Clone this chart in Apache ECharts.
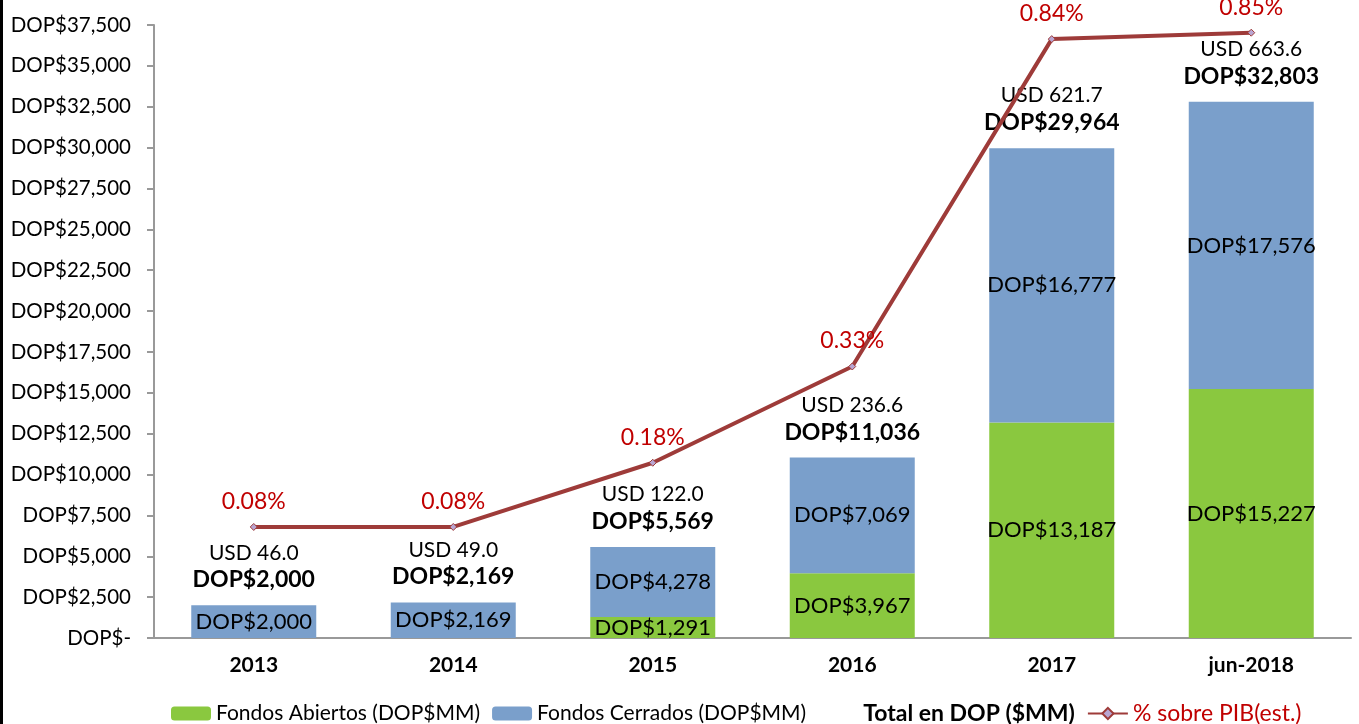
<!DOCTYPE html>
<html>
<head>
    <meta charset="UTF-8">
    <title>Fondos de Inversion</title>
    <script src="https://cdn.jsdelivr.net/npm/echarts@6/dist/echarts.min.js"></script>
    <style>
        html, body { margin: 0; padding: 0; background: #fff; }
        #main { width: 1359px; height: 724px; }
    </style>
</head>
<body>
<div id="main"></div>
<script>
    // datos
    var categorias = ['2013', '2014', '2015', '2016', '2017', 'jun-2018'];
    var abiertos = [0, 0, 1291, 3967, 13187, 15227];
    var cerrados = [2000, 2169, 4278, 7069, 16777, 17576];
    var totales = [2000, 2169, 5569, 11036, 29964, 32803];
    var usd = ['46.0', '49.0', '122.0', '236.6', '621.7', '663.6'];
    var pib = [0.08, 0.08, 0.18, 0.33, 0.84, 0.85];

    var fuente = 'Lato, "Open Sans", sans-serif';

    function dop(v) {
        if (!v) return 'DOP$-';
        return 'DOP$' + Number(v).toLocaleString('en-US');
    }

    var myChart = echarts.init(document.getElementById('main'));
    var option = {
        animation: false,
        textStyle: { fontFamily: fuente },
        graphic: [{
            type: 'rect',
            shape: { x: 0, y: 0, width: 3, height: 724 },
            style: { fill: '#000' }
        }],
        grid: { left: 154, right: 8, top: 25, bottom: 86 },
        legend: {
            left: 166,
            top: 697,
            itemWidth: 40,
            itemHeight: 14,
            itemGap: 12,
            textStyle: { fontFamily: fuente, fontSize: 21, color: '#000' },
            data: [
                'Fondos Abiertos (DOP$MM)',
                'Fondos Cerrados (DOP$MM)',
                { name: 'Total en DOP ($MM)', icon: 'none', textStyle: { fontWeight: 'bold', fontSize: 23 } },
                { name: '% sobre PIB(est.)', textStyle: { color: '#C00000', fontSize: 23 } }
            ]
        },
        xAxis: {
            type: 'category',
            data: categorias,
            axisLine: { lineStyle: { color: '#999', width: 2 } },
            axisTick: { length: 7, lineStyle: { color: '#999', width: 2 } },
            axisLabel: { fontFamily: fuente, fontSize: 21, fontWeight: 'bold', color: '#000', margin: 17 }
        },
        yAxis: [{
            type: 'value',
            min: 0,
            max: 37500,
            interval: 2500,
            splitLine: { show: false },
            axisLine: { show: true, lineStyle: { color: '#999', width: 2 } },
            axisTick: { show: true, length: 7, lineStyle: { color: '#999', width: 2 } },
            axisLabel: { fontFamily: fuente, fontSize: 20.5, color: '#000', margin: 23, formatter: dop }
        }, {
            type: 'value',
            min: -0.093,
            max: 0.862,
            show: false,
            splitLine: { show: false }
        }],
        series: [{
            name: 'Fondos Abiertos (DOP$MM)',
            type: 'bar',
            stack: 'fondos',
            data: abiertos,
            barWidth: 125,
            barGap: '-100%',
            itemStyle: { color: '#8AC83F' },
            label: {
                show: true,
                position: 'inside',
                fontFamily: fuente,
                fontSize: 22,
                color: '#000',
                formatter: function (p) { return p.value ? dop(p.value) : ''; }
            }
        }, {
            name: 'Fondos Cerrados (DOP$MM)',
            type: 'bar',
            stack: 'fondos',
            data: cerrados,
            barWidth: 125,
            barGap: '-100%',
            itemStyle: { color: '#7A9FCB' },
            label: {
                show: true,
                position: 'inside',
                fontFamily: fuente,
                fontSize: 22,
                color: '#000',
                formatter: function (p) { return dop(p.value); }
            }
        }, {
            name: 'Total en DOP ($MM)',
            type: 'bar',
            data: totales,
            barWidth: 125,
            barGap: '-100%',
            itemStyle: { color: 'rgba(0,0,0,0)' },
            label: {
                show: true,
                position: 'top',
                distance: 12,
                formatter: function (p) {
                    return '{u|USD ' + usd[p.dataIndex] + '}\n{d|' + dop(p.value) + '}';
                },
                rich: {
                    u: { fontFamily: fuente, fontSize: 21, color: '#000', lineHeight: 27 },
                    d: { fontFamily: fuente, fontSize: 23, fontWeight: 'bold', color: '#000', lineHeight: 27 }
                }
            }
        }, {
            name: '% sobre PIB(est.)',
            type: 'line',
            yAxisIndex: 1,
            data: pib,
            symbol: 'diamond',
            symbolSize: 7,
            lineStyle: { color: '#9E3B39', width: 4 },
            itemStyle: { color: '#B9A6D2', borderColor: '#9E3B39', borderWidth: 1 },
            label: {
                show: true,
                position: 'top',
                distance: 10,
                fontFamily: fuente,
                fontSize: 23,
                color: '#C00000',
                formatter: function (p) { return p.value.toFixed(2) + '%'; }
            },
            z: 5
        }]
    };

    myChart.setOption(option);
</script>
</body>
</html>
